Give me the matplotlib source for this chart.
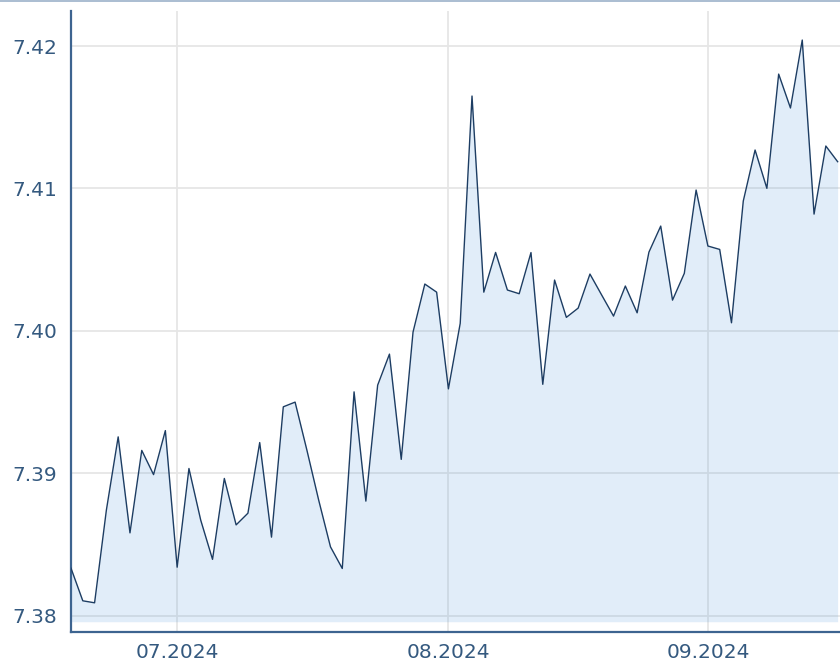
import matplotlib
matplotlib.use("Agg")
import matplotlib.pyplot as plt
from matplotlib.lines import Line2D

# daily closing values (one per trading day, mid June -> late Sept 2024)
values = [7.38334, 7.38105, 7.38091, 7.38742, 7.39256, 7.38582, 7.39161, 7.38991, 7.39300,
          7.38341, 7.39034, 7.38671, 7.38396, 7.38964, 7.38638, 7.38720, 7.39216, 7.38552,
          7.39467, 7.39500, 7.39163, 7.38812, 7.38484, 7.38332, 7.39572, 7.38805, 7.39619,
          7.39837, 7.39098, 7.39992, 7.40329, 7.40272, 7.39593, 7.40053, 7.41649, 7.40272,
          7.40551, 7.40287, 7.40261, 7.40550, 7.39625, 7.40357, 7.40095, 7.40160, 7.40399,
          7.40251, 7.40104, 7.40315, 7.40127, 7.40553, 7.40736, 7.40216, 7.40404, 7.40989,
          7.40596, 7.40572, 7.40057, 7.40912, 7.41270, 7.41001, 7.41803, 7.41565, 7.42042,
          7.40820, 7.41298, 7.41188]

# first trading day of each month -> x tick
month_idx = [9, 32, 54]
month_labels = ["07.2024", "08.2024", "09.2024"]
y_ticks = [7.38, 7.39, 7.40, 7.41, 7.42]
fill_base = 7.37958

line_col = "#1d3d63"
axis_col = "#3d6490"
text_col = "#34597f"

fig = plt.figure(figsize=(8.4, 6.61), dpi=100)
ax = fig.add_axes([71 / 840, 29 / 661, 769 / 840, 621 / 661])

x = list(range(len(values)))
ax.set_axisbelow(True)
ax.fill_between(x, values, fill_base, color="#3c8ad8", alpha=0.15, linewidth=0, zorder=1)
ax.plot(x, values, color=line_col, linewidth=1.0, zorder=3)

ax.set_xlim(0, 65.2)
ax.set_ylim(7.37886, 7.42246)

ax.set_xticks(month_idx)
ax.set_xticklabels(month_labels)
ax.set_yticks(y_ticks)
ax.set_yticklabels(["%.2f" % v for v in y_ticks])

ax.grid(True, color="#e6e6e6", linewidth=1.3)
ax.tick_params(axis="both", length=0, labelsize=14.5, labelcolor=text_col)
ax.tick_params(axis="x", pad=8)
ax.tick_params(axis="y", pad=10)

for side in ["top", "right"]:
    ax.spines[side].set_visible(False)
for side in ["left", "bottom"]:
    ax.spines[side].set_color(axis_col)
    ax.spines[side].set_linewidth(1.6)

# thin border along the very top of the image
fig.add_artist(Line2D([0, 1], [1 - 0.8 / 661, 1 - 0.8 / 661], transform=fig.transFigure,
                      color="#9cb2ca", linewidth=1.2))

fig.savefig("out.png", dpi=100)
